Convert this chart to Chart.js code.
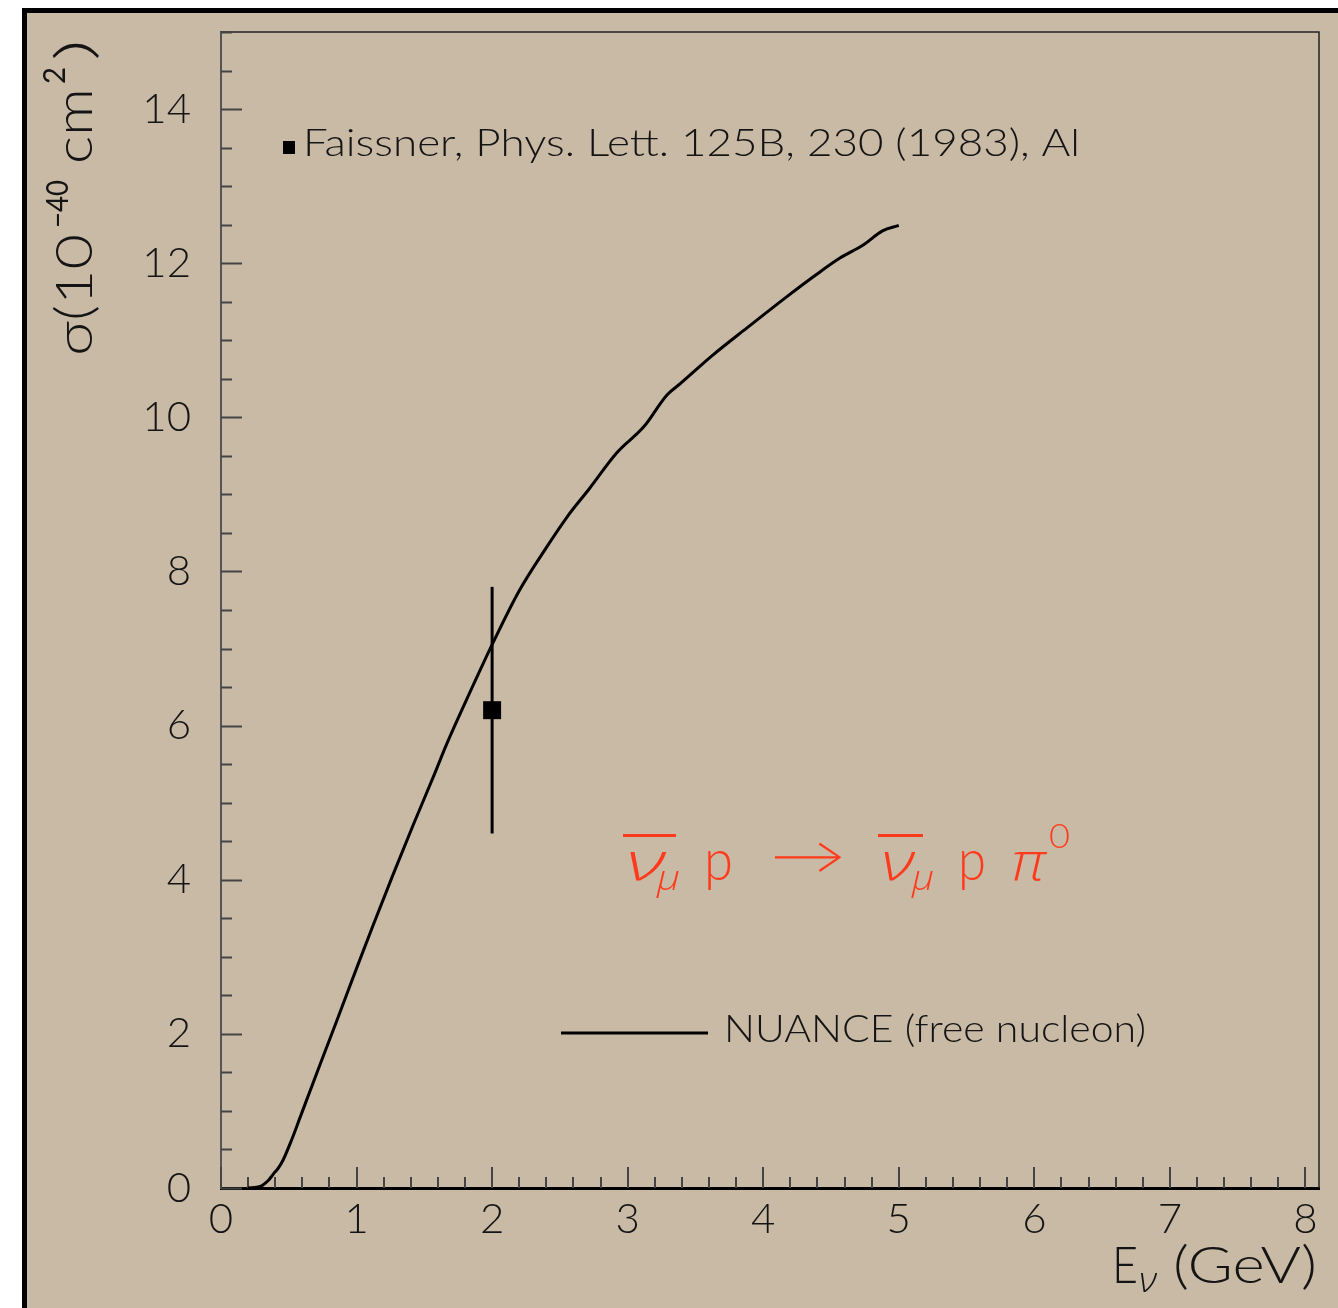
<!DOCTYPE html>
<html>
<head>
<meta charset="utf-8">
<script src="https://cdn.jsdelivr.net/npm/chart.js@4.4.1/dist/chart.umd.min.js"></script>
<style>
  html, body { margin: 0; padding: 0; background: #fff; }
  canvas { display: block; }
</style>
</head>
<body>
<canvas id="xsec" width="1338" height="1308"></canvas>
<script>
// NUANCE free nucleon prediction
const nuanceE = [0.2, 0.29, 0.35, 0.39, 0.42, 0.46, 0.52, 0.58, 0.73, 0.85, 1.0, 1.12, 1.27, 1.42, 1.57, 1.66, 1.81,
  2.0, 2.2, 2.4, 2.55, 2.72, 2.92, 3.12, 3.29, 3.39, 3.63, 3.88, 4.17, 4.39, 4.56, 4.74, 4.88, 5.0];
const nuanceSigma = [0, 0.02, 0.1, 0.19, 0.25, 0.37, 0.62, 0.9, 1.60, 2.15, 2.85, 3.40, 4.07, 4.72, 5.35, 5.74, 6.33,
  7.05, 7.75, 8.31, 8.70, 9.08, 9.54, 9.88, 10.29, 10.44, 10.81, 11.16, 11.56, 11.85, 12.06, 12.24, 12.42, 12.49];

// Faissner et al. data point with error bar
const faissnerE = [2.0];
const faissnerSigma = [6.2];
const faissnerLow = [4.6];
const faissnerHigh = [7.8];

const xTickValues = [0, 1, 2, 3, 4, 5, 6, 7, 8];
const yTickValues = [0, 2, 4, 6, 8, 10, 12, 14];

const BG = '#c9baa5';
const TICK_FONT = 'Lato, "DejaVu Sans", sans-serif';
const GREEK_FONT = '"Open Sans", "DejaVu Sans", sans-serif';

function setFont(ctx, size, style) {
  ctx.font = (style || '') + ' 300 ' + size + 'px ' + TICK_FONT;
}

// write text starting at x so that it spans the given width
function fitText(ctx, text, x, y, width) {
  ctx.save();
  const w = ctx.measureText(text).width;
  ctx.translate(x, y);
  ctx.scale(width / w, 1);
  ctx.fillText(text, 0, 0);
  ctx.restore();
}

const framePlugin = {
  id: 'frame',
  beforeDraw(chart) {
    const ctx = chart.ctx;
    ctx.save();
    ctx.fillStyle = '#fff';
    ctx.fillRect(0, 0, chart.width, chart.height);
    ctx.fillStyle = '#000';
    ctx.fillRect(22, 8, chart.width, chart.height);
    ctx.fillStyle = BG;
    ctx.fillRect(27, 13, chart.width, chart.height);
    ctx.restore();
  },
  beforeDatasetsDraw(chart) {
    const ctx = chart.ctx;
    const xs = chart.scales.x, ys = chart.scales.y;
    const a = chart.chartArea;
    ctx.save();
    // top and right frame
    ctx.strokeStyle = '#222';
    ctx.lineWidth = 1.5;
    ctx.beginPath();
    ctx.moveTo(a.left, a.top);
    ctx.lineTo(a.right, a.top);
    ctx.lineTo(a.right, a.bottom);
    ctx.stroke();
    // inward ticks
    ctx.strokeStyle = '#444';
    ctx.lineWidth = 2;
    ctx.beginPath();
    for (let v = 0; v <= 15.001; v += 0.5) {
      const py = Math.round(ys.getPixelForValue(v)) + 0.5;
      const len = Math.abs(v / 2 - Math.round(v / 2)) < 1e-6 ? 21 : 11;
      ctx.moveTo(a.left, py);
      ctx.lineTo(a.left + len, py);
    }
    for (let v = 0; v <= 8.001; v += 0.2) {
      const px = Math.round(xs.getPixelForValue(v));
      const len = Math.abs(v - Math.round(v)) < 1e-6 ? 21 : 11;
      ctx.moveTo(px, a.bottom);
      ctx.lineTo(px, a.bottom - len);
    }
    ctx.stroke();
    // error bar
    ctx.strokeStyle = '#000';
    ctx.lineWidth = 3;
    ctx.beginPath();
    faissnerE.forEach((e, i) => {
      const px = xs.getPixelForValue(e);
      ctx.moveTo(px, ys.getPixelForValue(faissnerLow[i]));
      ctx.lineTo(px, ys.getPixelForValue(faissnerHigh[i]));
    });
    ctx.stroke();
    ctx.restore();
  },
  afterDraw(chart) {
    const ctx = chart.ctx;
    ctx.save();
    ctx.fillStyle = '#141414';
    ctx.textBaseline = 'alphabetic';

    // y axis title
    ctx.save();
    ctx.translate(92, 356);
    ctx.rotate(-Math.PI / 2);
    setFont(ctx, 52);
    fitText(ctx, 'σ(10', 0, 0, 122);
    ctx.font = '400 30px ' + TICK_FONT;
    fitText(ctx, '−40', 128, -24, 48);
    setFont(ctx, 52);
    fitText(ctx, 'cm', 192, 0, 76);
    ctx.font = '400 30px ' + TICK_FONT;
    fitText(ctx, '2', 272, -27, 17);
    setFont(ctx, 52);
    fitText(ctx, ')', 295, 0, 22);
    ctx.restore();

    // x axis title
    setFont(ctx, 52);
    fitText(ctx, 'E', 1112, 1283, 26);
    ctx.font = 'italic 300 34px ' + GREEK_FONT;
    fitText(ctx, 'ν', 1139, 1292, 18);
    setFont(ctx, 52);
    fitText(ctx, '(GeV)', 1173, 1283, 144);

    // data legend
    ctx.fillStyle = '#000';
    ctx.fillRect(283, 141, 12, 13);
    ctx.fillStyle = '#141414';
    setFont(ctx, 38);
    fitText(ctx, 'Faissner, Phys. Lett. 125B, 230 (1983), Al', 303, 156, 777);

    // model legend
    ctx.strokeStyle = '#000';
    ctx.lineWidth = 3;
    ctx.beginPath();
    ctx.moveTo(561, 1033);
    ctx.lineTo(708, 1033);
    ctx.stroke();
    setFont(ctx, 38);
    fitText(ctx, 'NUANCE (free nucleon)', 724, 1042, 422);

    // reaction label
    const red = '#ff3a1c';
    ctx.fillStyle = red;
    ctx.fillRect(623, 834, 53, 3);
    ctx.fillRect(878, 834, 45, 3);
    ctx.font = 'italic 300 54px ' + GREEK_FONT;
    fitText(ctx, 'ν', 626, 880, 40);
    fitText(ctx, 'ν', 881, 880, 34);
    ctx.font = 'italic 300 34px ' + GREEK_FONT;
    fitText(ctx, 'μ', 657, 890, 23);
    fitText(ctx, 'μ', 912, 890, 22);
    setFont(ctx, 58);
    fitText(ctx, 'p', 704, 880, 29);
    fitText(ctx, 'p', 958, 880, 28);
    ctx.font = 'italic 300 54px ' + GREEK_FONT;
    fitText(ctx, 'π', 1011, 880, 35);
    setFont(ctx, 34);
    fitText(ctx, '0', 1049, 848, 21);
    setFont(ctx, 52);
    fitText(ctx, '→', 770, 874, 76);
    ctx.restore();
  }
};

new Chart(document.getElementById('xsec'), {
  data: {
    datasets: [
      {
        type: 'line',
        label: 'NUANCE (free nucleon)',
        data: nuanceE.map((e, i) => ({ x: e, y: nuanceSigma[i] })),
        borderColor: '#000',
        borderWidth: 3,
        pointRadius: 0,
        fill: false,
        cubicInterpolationMode: 'monotone'
      },
      {
        type: 'scatter',
        label: 'Faissner, Phys. Lett. 125B, 230 (1983), Al',
        data: faissnerE.map((e, i) => ({ x: e, y: faissnerSigma[i] })),
        pointStyle: 'rect',
        pointRadius: 12.7,
        pointBorderWidth: 0,
        backgroundColor: '#000',
        borderColor: '#000'
      }
    ]
  },
  options: {
    responsive: false,
    animation: false,
    layout: { padding: { left: 0, top: 32, right: 19, bottom: 0 } },
    plugins: { legend: { display: false }, tooltip: { enabled: false } },
    scales: {
      x: {
        type: 'linear',
        min: 0,
        max: 8.1,
        afterFit(s) { s.height = 120; s.paddingLeft = 0; s.paddingRight = 0; },
        afterBuildTicks(s) { s.ticks = xTickValues.map(v => ({ value: v })); },
        grid: { display: false, drawTicks: false },
        border: { display: true, color: '#000', width: 3 },
        ticks: {
          padding: 6,
          maxRotation: 0,
          color: '#141414',
          font: { family: TICK_FONT, size: 42, weight: 300 }
        }
      },
      y: {
        type: 'linear',
        min: 0,
        max: 15,
        afterFit(s) { s.width = 221; s.paddingTop = 0; s.paddingBottom = 0; },
        afterBuildTicks(s) { s.ticks = yTickValues.map(v => ({ value: v })); },
        grid: { display: false, drawTicks: false },
        border: { display: true, color: '#555', width: 2 },
        ticks: {
          padding: 30,
          color: '#141414',
          font: { family: TICK_FONT, size: 42, weight: 300 }
        }
      }
    }
  },
  plugins: [framePlugin]
});
</script>
</body>
</html>
